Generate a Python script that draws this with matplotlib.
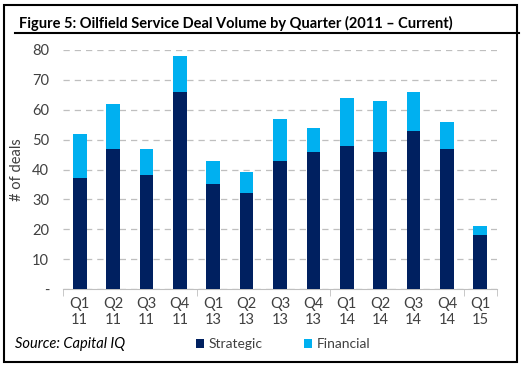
import matplotlib
matplotlib.use("Agg")
import matplotlib.pyplot as plt
from matplotlib.lines import Line2D
from matplotlib.patches import Rectangle

plt.rcParams['font.family'] = ['Lato', 'DejaVu Sans']

quarters = ["Q1\n11", "Q2\n11", "Q3\n11", "Q4\n11", "Q1\n13", "Q2\n13", "Q3\n13",
            "Q4\n13", "Q1\n14", "Q2\n14", "Q3\n14", "Q4\n14", "Q1\n15"]
strategic = [37, 47, 38, 66, 35, 32, 43, 46, 48, 46, 53, 47, 18]
financial = [15, 15, 9, 12, 8, 7, 14, 8, 16, 17, 13, 9, 3]
year_breaks = [-0.5, 3.5, 7.5, 11.5, 12.5]
y_ticks = [0, 10, 20, 30, 40, 50, 60, 70, 80]
y_labels = ["-", "10", "20", "30", "40", "50", "60", "70", "80"]

W, H = 524, 367
fig = plt.figure(figsize=(W / 100, H / 100), dpi=100)

def fx(px):
    return px / W

def fy(py):
    return 1 - py / H

ax = fig.add_axes([fx(63), fy(289), fx(497) - fx(63), fy(50) - fy(289)])

x = range(len(quarters))
ax.bar(x, strategic, width=0.41, color="#002060", label="Strategic", zorder=3)
ax.bar(x, financial, width=0.41, bottom=strategic, color="#00B0F0",
       label="Financial", zorder=3)

ax.set_xlim(-0.5, 12.5)
ax.set_ylim(0, 80)
ax.set_yticks(y_ticks)
ax.set_yticklabels(y_labels)
ax.set_xticks(list(x))
ax.set_xticklabels(quarters, linespacing=1.15)
ax.set_xticks(year_breaks, minor=True)
ax.tick_params(axis="x", which="major", length=0, pad=6, labelsize=10.5, colors="#404040")
ax.tick_params(axis="x", which="minor", length=5, color="#BFBFBF")
ax.tick_params(axis="y", length=0, pad=10, labelsize=10.5, colors="#404040")

ax.yaxis.grid(True, color="#BFBFBF", linestyle=(0, (5, 4)), linewidth=0.9, zorder=0)
for s in ["top", "right", "left"]:
    ax.spines[s].set_visible(False)
ax.spines["bottom"].set_color("#BFBFBF")

ax.set_ylabel("# of deals", fontsize=10.5, color="#404040", labelpad=6)

# frame and title
fig.add_artist(Rectangle((fx(4), fy(362)), fx(517) - fx(4), fy(5) - fy(362),
                         transform=fig.transFigure, fill=False, edgecolor="black",
                         linewidth=1.5))
fig.add_artist(Line2D([fx(15), fx(519)], [fy(33), fy(33)], transform=fig.transFigure,
                      color="black", linewidth=1.5))
fig.text(fx(19), fy(23), "Figure 5: Oilfield Service Deal Volume by Quarter (2011 \u2013 Current)",
         fontsize=10.5, fontweight="bold", va="center", ha="left")
fig.text(fx(15), fy(344), "Source: Capital IQ", fontsize=10.5, style="italic",
         va="center", ha="left")

fig.legend(loc="center", bbox_to_anchor=(fx(283), fy(344)), ncol=2, frameon=False,
           fontsize=10, handlelength=0.6, handleheight=0.6, handletextpad=0.3,
           columnspacing=3.0, labelcolor="#404040")

fig.savefig("out.png", dpi=100)
